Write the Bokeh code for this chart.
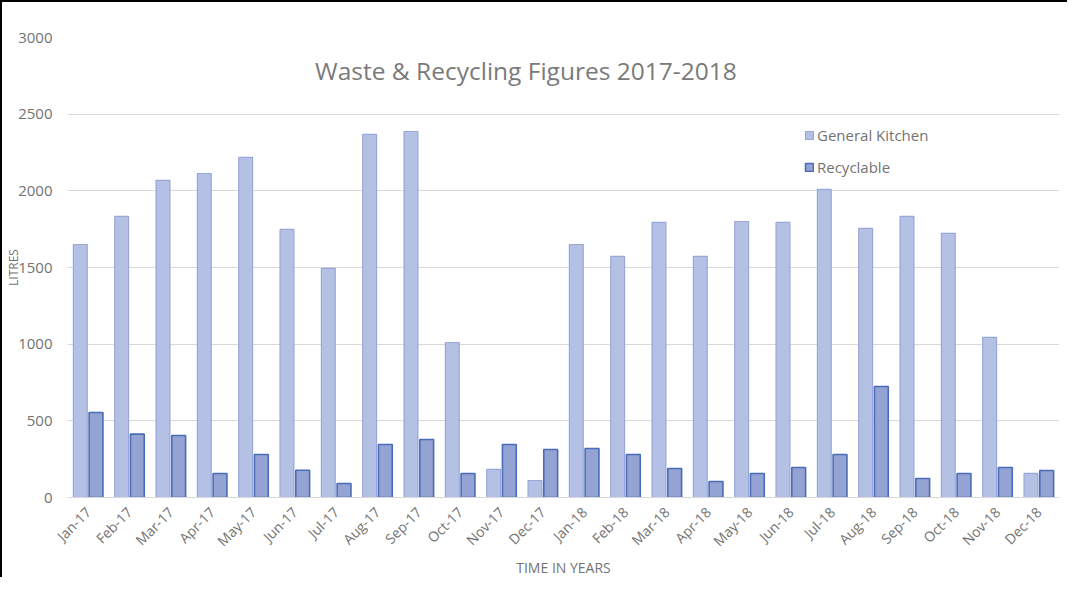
from bokeh.plotting import figure
from bokeh.models import ColumnDataSource, FactorRange, Label, SingleIntervalTicker
from bokeh.transform import dodge
from bokeh.embed import file_html
from bokeh.resources import INLINE

months = ["Jan-17", "Feb-17", "Mar-17", "Apr-17", "May-17", "Jun-17", "Jul-17", "Aug-17",
          "Sep-17", "Oct-17", "Nov-17", "Dec-17", "Jan-18", "Feb-18", "Mar-18", "Apr-18",
          "May-18", "Jun-18", "Jul-18", "Aug-18", "Sep-18", "Oct-18", "Nov-18", "Dec-18"]
general_kitchen = [1650, 1833, 2068, 2113, 2218, 1748, 1494, 2368, 2387, 1011, 183, 111,
                   1650, 1572, 1794, 1572, 1800, 1794, 2009, 1755, 1833, 1722, 1044, 157]
recyclable = [554, 413, 404, 157, 280, 178, 91, 346, 378, 157, 346, 313,
              320, 280, 189, 104, 157, 196, 280, 724, 124, 157, 196, 176]

source = ColumnDataSource(dict(month=months, general=general_kitchen, recyc=recyclable))

FONT = "Open Sans"
GREY = "#737373"

p = figure(x_range=FactorRange(factors=months, range_padding=0), y_range=(0, 3000),
           width=1067, height=577, output_backend="svg", toolbar_location=None,
           min_border_left=61, min_border_right=10, min_border_top=35, min_border_bottom=82)
p.styles = {"border-top": "2px solid #000000", "border-left": "2px solid #000000"}

p.vbar(x=dodge("month", -0.19, range=p.x_range), top="general", width=0.335, source=source,
       fill_color="#b4c0e4", line_color="#97a8d8", line_width=1.2, legend_label="General Kitchen")
p.vbar(x=dodge("month", 0.19, range=p.x_range), top="recyc", width=0.335, source=source,
       fill_color="#94a3d4", line_color="#4a6cb6", line_width=1.6, legend_label="Recyclable")

p.outline_line_color = None
p.xgrid.grid_line_color = None
p.ygrid.grid_line_color = "#d9d9d9"
p.ygrid.grid_line_width = 1

p.yaxis.ticker = SingleIntervalTicker(interval=500)
p.yaxis.axis_line_color = None
p.yaxis.major_tick_line_color = None
p.yaxis.minor_tick_line_color = None
p.yaxis.major_tick_out = 0
p.yaxis.minor_tick_out = 0
p.yaxis.major_label_standoff = 15
p.yaxis.axis_label = "LITRES"
p.yaxis.axis_label_standoff = -7
p.yaxis.axis_label_text_line_height = 1.0

p.xaxis.axis_line_color = "#d9d9d9"
p.xaxis.major_tick_line_color = None
p.xaxis.minor_tick_line_color = None
p.xaxis.major_label_orientation = 0.785
p.xaxis.major_label_standoff = 6
p.xaxis.axis_label = "TIME IN YEARS"
p.xaxis.axis_label_standoff = -2

for ax in (p.xaxis[0], p.yaxis[0]):
    ax.major_label_text_font = FONT
    ax.major_label_text_color = GREY
    ax.axis_label_text_font = FONT
    ax.axis_label_text_color = GREY
    ax.axis_label_text_font_style = "normal"
p.yaxis.major_label_text_font_size = "15px"
p.xaxis.major_label_text_font_size = "14px"
p.yaxis.axis_label_text_font_size = "12px"
p.xaxis.axis_label_text_font_size = "14px"

p.add_layout(Label(x=11.09, y=2785, text="Waste & Recycling Figures 2017-2018",
                   text_align="center", text_baseline="middle", text_font=FONT,
                   text_font_size="24.5px", text_color="#7a7a7a"))

lg = p.legend[0]
lg.location = (737, 320)
lg.glyph_width = 10
lg.glyph_height = 10
lg.label_standoff = 3
lg.spacing = 12
lg.label_height = 20
lg.label_text_font = FONT
lg.label_text_font_size = "15px"
lg.label_text_color = GREY
lg.border_line_color = None
lg.background_fill_alpha = 0

open("out.html", "w").write(file_html(p, INLINE))
